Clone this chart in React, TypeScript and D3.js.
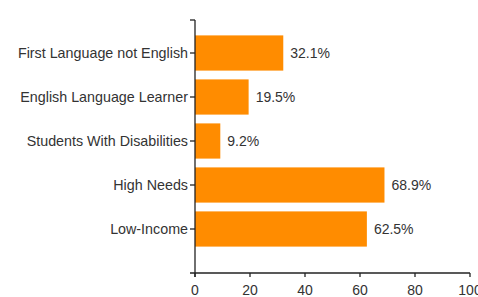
import React, { useEffect, useRef } from 'react';
import * as d3 from 'd3';

const categories = [
  'First Language not English',
  'English Language Learner',
  'Students With Disabilities',
  'High Needs',
  'Low-Income',
];
const values = [32.1, 19.5, 9.2, 68.9, 62.5];
const xTicks = [0, 20, 40, 60, 80, 100];

export default function App() {
  const ref = useRef<SVGSVGElement>(null);

  useEffect(() => {
    const svg = d3.select(ref.current);
    svg.selectAll('*').remove();

    const x0 = 195;
    const x1 = 470;
    const yTop = 20;
    const yBottom = 273;

    const x = d3.scaleLinear().domain([0, 100]).range([x0, x1]);
    const y = d3.scaleBand<string>()
      .domain(categories)
      .range([31, 251])
      .paddingInner(0.2)
      .paddingOuter(0.1);

    const font = '"Liberation Sans", Arial, sans-serif';
    const textColor = '#333';

    // bars
    svg.append('g')
      .selectAll('rect')
      .data(values)
      .enter()
      .append('rect')
      .attr('x', x(0))
      .attr('y', (d, i) => y(categories[i])!)
      .attr('width', d => x(d) - x(0))
      .attr('height', y.bandwidth())
      .attr('fill', '#FF8C00');

    // value labels
    svg.append('g')
      .selectAll('text')
      .data(values)
      .enter()
      .append('text')
      .attr('x', d => x(d) + 7)
      .attr('y', (d, i) => y(categories[i])! + y.bandwidth() / 2)
      .attr('dy', '0.35em')
      .attr('font-family', font)
      .attr('font-size', 14)
      .attr('fill', textColor)
      .text(d => d.toFixed(1) + '%');

    // y axis
    const ya = svg.append('g');
    ya.append('line')
      .attr('x1', x0).attr('x2', x0)
      .attr('y1', yTop).attr('y2', yBottom + 4)
      .attr('stroke', '#222').attr('stroke-width', 1.3);
    ya.append('line')
      .attr('x1', x0 - 5).attr('x2', x0)
      .attr('y1', yTop).attr('y2', yTop)
      .attr('stroke', '#222').attr('stroke-width', 1.3);
    categories.forEach(c => {
      const cy = y(c)! + y.bandwidth() / 2;
      ya.append('line')
        .attr('x1', x0 - 5).attr('x2', x0)
        .attr('y1', cy).attr('y2', cy)
        .attr('stroke', '#222').attr('stroke-width', 1.3);
      ya.append('text')
        .attr('x', x0 - 7)
        .attr('y', cy)
        .attr('dy', '0.35em')
        .attr('text-anchor', 'end')
        .attr('font-family', font)
        .attr('font-size', 14.3)
        .attr('fill', textColor)
        .text(c);
    });

    // x axis
    const xa = svg.append('g');
    xa.append('line')
      .attr('x1', x0 - 5).attr('x2', x1)
      .attr('y1', yBottom).attr('y2', yBottom)
      .attr('stroke', '#222').attr('stroke-width', 1.3);
    xTicks.forEach(t => {
      xa.append('line')
        .attr('x1', x(t)).attr('x2', x(t))
        .attr('y1', yBottom).attr('y2', yBottom + 4)
        .attr('stroke', '#222').attr('stroke-width', 1.3);
      xa.append('text')
        .attr('x', x(t))
        .attr('y', yBottom + 17)
        .attr('dy', '0.35em')
        .attr('text-anchor', 'middle')
        .attr('font-family', font)
        .attr('font-size', 14)
        .attr('fill', textColor)
        .text(t);
    });
  }, []);

  return (
    <svg
      ref={ref}
      width={478}
      height={297}
      style={{ position: 'absolute', left: 0, top: 0, background: '#fff' }}
    />
  );
}
